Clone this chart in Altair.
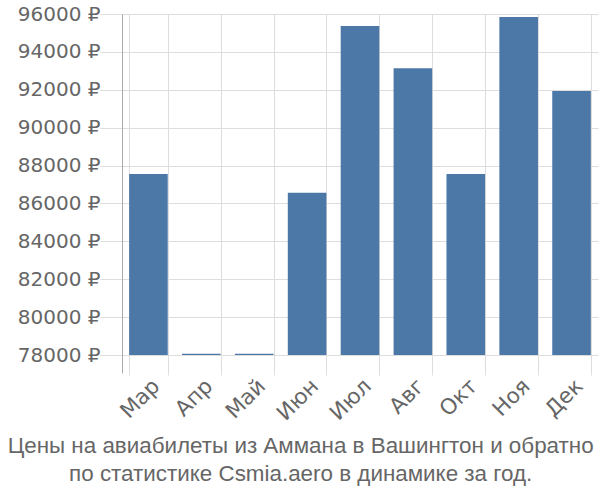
import altair as alt
import pandas as pd

months = ["Мар", "Апр", "Май", "Июн", "Июл", "Авг", "Окт", "Ноя", "Дек"]
prices = [87550, 78060, 78060, 86560, 95360, 93140, 87560, 95840, 91930]
y_ticks = [78000, 80000, 82000, 84000, 86000, 88000, 90000, 92000, 94000, 96000]
title_lines = ["Цены на авиабилеты из Аммана в Вашингтон и обратно",
               "по статистике Csmia.aero в динамике за год."]

df = pd.DataFrame({"month": months, "price": prices})

FONT = "Liberation Sans"
AXFONT = "DejaVu Sans"

bars = alt.Chart(df).mark_bar(color="#4c78a8").encode(
    x=alt.X("month:N", sort=months, title=None,
            scale=alt.Scale(paddingInner=0.27, paddingOuter=0.135),
            axis=alt.Axis(labelAngle=-45, labelFontSize=21.5, labelColor="#666666",
                          labelFont=AXFONT, tickBand="extent", grid=True,
                          gridColor="#dddddd", tickColor="#dddddd", tickSize=2,
                          domain=False, labelPadding=0)),
    y=alt.Y("price:Q", title=None,
            scale=alt.Scale(domain=[77050, 96000], nice=False, zero=False),
            axis=alt.Axis(values=y_ticks, labelExpr="datum.value + ' ₽'",
                          labelFontSize=20, labelColor="#666666", labelFont=AXFONT,
                          gridColor="#dddddd", tickColor="#dddddd", tickSize=22,
                          domainColor="#aaaaaa", labelPadding=0)),
    y2=alt.datum(78000),
)

chart = bars.properties(
    width=476, height=359,
    autosize=alt.AutoSizeParams(type="none"),
    padding={"left": 122, "top": 14, "right": 2, "bottom": 127},
    title=alt.TitleParams(text=title_lines, orient="bottom", anchor="middle",
                          fontSize=22.4, color="#666666", font=FONT,
                          fontWeight="normal", lineHeight=28, frame="bounds",
                          offset=11, dx=-7),
).configure_view(stroke=None)

chart.save("out.html", embed_options={"renderer": "svg", "actions": False})
